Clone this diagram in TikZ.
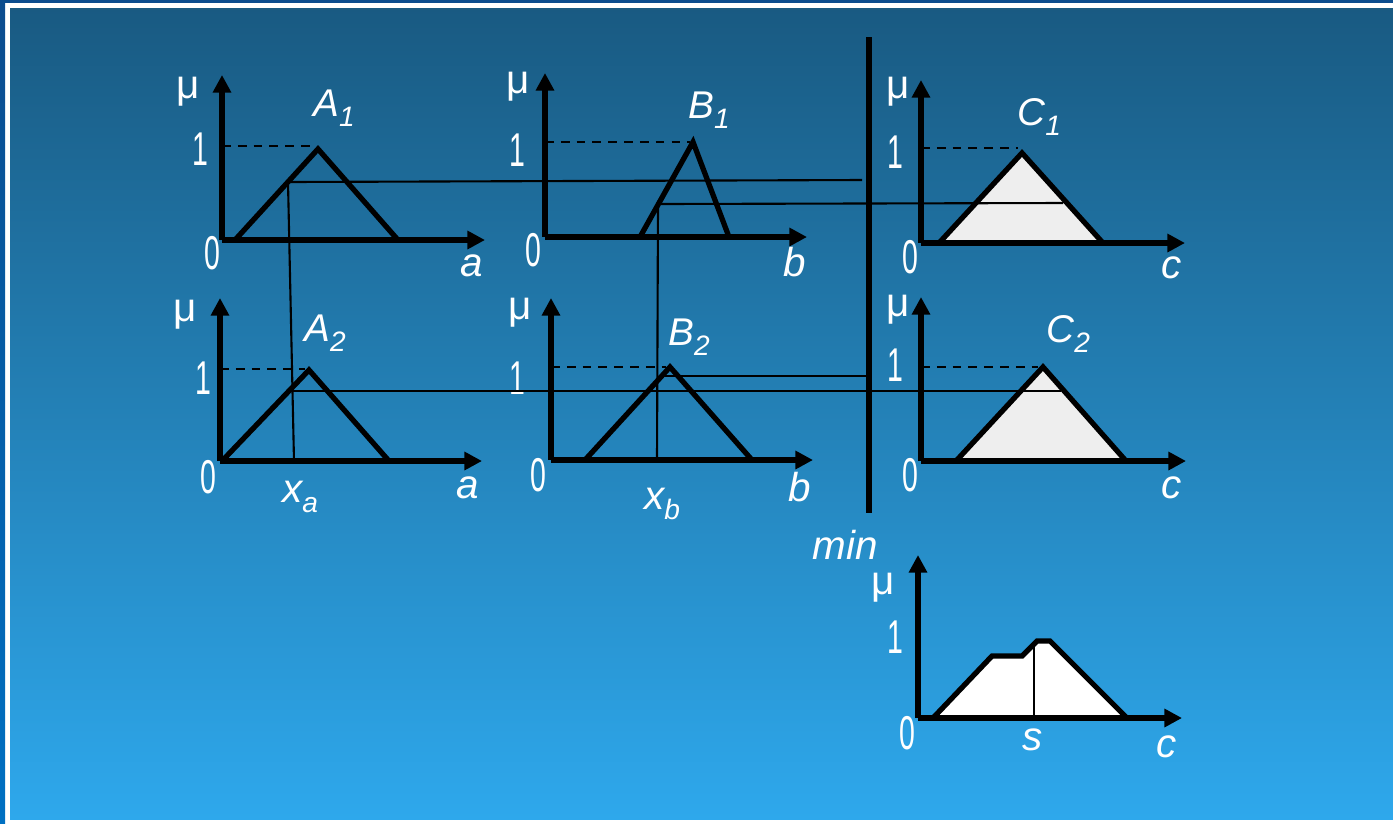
\documentclass[tikz,border=0pt]{standalone}
\usepackage{fontspec}
\setmainfont{Liberation Sans}
\usepackage{graphicx}
\usetikzlibrary{arrows.meta}
\definecolor{slidetop}{HTML}{195A82}
\definecolor{slidebot}{HTML}{2EA8EC}
\definecolor{slideedge}{HTML}{0B4C8E}
\definecolor{slideedgelow}{HTML}{0070C2}
\definecolor{mfgray}{HTML}{EEEEEE}
\newcommand{\setlab}[2]{\textit{#1}\raisebox{-6pt}{\fontsize{16}{18}\selectfont\textit{#2}}}
\newcommand{\varlab}[2]{\textit{#1}\raisebox{-5.5pt}{\fontsize{16}{18}\selectfont\textit{#2}}}
\newcommand{\ticklab}[1]{\scalebox{0.6}[1]{#1}}
\tikzset{
    plot axis/.style={line width=3.4pt, draw=black, -{Triangle[length=10pt,width=10pt]}},
    plot mf/.style={line width=3pt, draw=black, line join=miter},
    plot cut/.style={line width=1.2pt, draw=black},
    plot guide/.style={line width=1.3pt, draw=black, dash pattern=on 5pt off 4pt},
    plot bar/.style={line width=3pt, draw=black},
    plot label/.style={text=white, inner sep=0pt},
    plot mu/.style={plot label, font=\fontsize{23}{25}\selectfont},
    plot tick/.style={plot label, font=\fontsize{27}{29}\selectfont},
    plot set/.style={plot label, font=\fontsize{22}{24}\selectfont},
    plot var/.style={plot label, font=\fontsize{23}{25}\selectfont\itshape}
}

\begin{document}
\begin{tikzpicture}[x=0.02cm, y=-0.02cm]
% slide background
\useasboundingbox (0,0) rectangle (1393,823);
\fill[white] (0,0) rectangle (1393,823);
\shade[top color=slidetop, bottom color=slidebot] (10,8) rectangle (1393,819);
\shade[top color=slideedge, bottom color=slideedgelow] (0,0) rectangle (5,823);
\fill[slideedge] (0,0) rectangle (1393,3);

% points of the panels
\coordinate (a1o) at (222,240); \coordinate (a1y) at (222,75); \coordinate (a1x) at (485,240);
\coordinate (a1l) at (235,240); \coordinate (a1p) at (318,149); \coordinate (a1r) at (398,240);
\coordinate (b1o) at (545,237); \coordinate (b1y) at (545,73); \coordinate (b1x) at (807,237);
\coordinate (b1l) at (640,237); \coordinate (b1p) at (693,142); \coordinate (b1r) at (729,237);
\coordinate (c1o) at (921,243); \coordinate (c1y) at (921,80); \coordinate (c1x) at (1185,243);
\coordinate (c1l) at (939,243); \coordinate (c1p) at (1022,153); \coordinate (c1r) at (1103,243);
\coordinate (a2o) at (220,461); \coordinate (a2y) at (220,298); \coordinate (a2x) at (482,461);
\coordinate (a2l) at (222,461); \coordinate (a2p) at (309,370); \coordinate (a2r) at (389,461);
\coordinate (b2o) at (551,460); \coordinate (b2y) at (551,298); \coordinate (b2x) at (813,460);
\coordinate (b2l) at (585,460); \coordinate (b2p) at (670,367); \coordinate (b2r) at (752,460);
\coordinate (c2o) at (921,461); \coordinate (c2y) at (921,297); \coordinate (c2x) at (1186,461);
\coordinate (c2l) at (956,461); \coordinate (c2p) at (1043,367); \coordinate (c2r) at (1126,461);
\coordinate (so) at (918,718); \coordinate (sy) at (918,555); \coordinate (sx) at (1182,718);

% min bar
\coordinate (bartop) at (869,37); \coordinate (barbot) at (869,513);
\draw[plot bar] (bartop) -- (barbot);
\node[plot var] (minlab) at (845,545) {min};

% A1
\draw[plot guide] (222,146) -- (315,146);
\draw[plot axis] (a1o) -- (a1y);
\draw[plot axis] (a1o) -- (a1x);
\draw[plot mf] (a1l) -- (a1p) -- (a1r);
\node[plot mu] (a1mu) at (188,92) {μ};
\node[plot tick] (a1one) at (200,149) {\ticklab{1}};
\node[plot tick] (a1zero) at (212,253) {\ticklab{0}};
\node[plot set] (a1set) at (334,108) {\setlab{A}{1}};
\node[plot var] (a1var) at (472,266) {a};

% B1
\draw[plot guide] (545,142) -- (690,142);
\draw[plot axis] (b1o) -- (b1y);
\draw[plot axis] (b1o) -- (b1x);
\draw[plot mf] (b1l) -- (b1p) -- (b1r);
\node[plot mu] (b1mu) at (518,87) {μ};
\node[plot tick] (b1one) at (517,150) {\ticklab{1}};
\node[plot tick] (b1zero) at (533,250) {\ticklab{0}};
\node[plot set] (b1set) at (709,110) {\setlab{B}{1}};
\node[plot var] (b1var) at (795,262) {b};

% C1
\fill[mfgray] (c1l) -- (c1p) -- (c1r) -- cycle;
\draw[plot guide] (921,148) -- (1018,148);
\draw[plot axis] (c1o) -- (c1y);
\draw[plot axis] (c1o) -- (c1x);
\draw[plot mf] (c1l) -- (c1p) -- (c1r);
\node[plot mu] (c1mu) at (898,92) {μ};
\node[plot tick] (c1one) at (895,152) {\ticklab{1}};
\node[plot tick] (c1zero) at (910,257) {\ticklab{0}};
\node[plot set] (c1set) at (1039,117) {\setlab{C}{1}};
\node[plot var] (c1var) at (1172,268) {c};

% A2
\draw[plot guide] (220,369) -- (305,369);
\draw[plot axis] (a2o) -- (a2y);
\draw[plot axis] (a2o) -- (a2x);
\draw[plot mf] (a2l) -- (a2p) -- (a2r);
\node[plot mu] (a2mu) at (185,315) {μ};
\node[plot tick] (a2one) at (203,378) {\ticklab{1}};
\node[plot tick] (a2zero) at (208,477) {\ticklab{0}};
\node[plot set] (a2set) at (325,333) {\setlab{A}{2}};
\node[plot var] (a2var) at (468,488) {a};
\node[plot var] (xa) at (300,497) {\varlab{x}{a}};

% B2
\draw[plot guide] (551,367) -- (666,367);
\draw[plot axis] (b2o) -- (b2y);
\draw[plot axis] (b2o) -- (b2x);
\draw[plot mf] (b2l) -- (b2p) -- (b2r);
\node[plot mu] (b2mu) at (520,313) {μ};
\node[plot tick] (b2one) at (517,378) {\ticklab{1}};
\node[plot tick] (b2zero) at (538,475) {\ticklab{0}};
\node[plot set] (b2set) at (689,337) {\setlab{B}{2}};
\node[plot var] (b2var) at (800,487) {b};
\node[plot var] (xb) at (662,504) {\varlab{x}{b}};

% C2
\fill[mfgray] (c2l) -- (c2p) -- (c2r) -- cycle;
\draw[plot guide] (921,367) -- (1038,367);
\draw[plot axis] (c2o) -- (c2y);
\draw[plot axis] (c2o) -- (c2x);
\draw[plot mf] (c2l) -- (c2p) -- (c2r);
\node[plot mu] (c2mu) at (898,310) {μ};
\node[plot tick] (c2one) at (895,365) {\ticklab{1}};
\node[plot tick] (c2zero) at (910,475) {\ticklab{0}};
\node[plot set] (c2set) at (1068,334) {\setlab{C}{2}};
\node[plot var] (c2var) at (1172,488) {c};

% cut levels
\coordinate (a1cut) at (288,182); \coordinate (a1end) at (862,180);
\coordinate (b1cut) at (658,204); \coordinate (b1end) at (1063,203);
\coordinate (xafoot) at (294,461);
\coordinate (a2cut) at (293,391); \coordinate (a2end) at (1061,391);
\coordinate (b2cut) at (660,376); \coordinate (b2end) at (866,376);
\coordinate (xbfoot) at (657,460);
\draw[plot cut] (a1cut) -- (a1end);
\draw[plot cut] (b1cut) -- (b1end);
\draw[plot cut] (a1cut) -- (xafoot);
\draw[plot cut] (b1cut) -- (xbfoot);
\draw[plot cut] (a2cut) -- (a2end);
\draw[plot cut] (b2cut) -- (b2end);

% result
\fill[white] (933,718) -- (992,656) -- (1022,656) -- (1037,641) -- (1050,641) -- (1127,718) -- cycle;
\draw[plot axis] (so) -- (sy);
\draw[plot axis] (so) -- (sx);
\draw[plot mf] (933,718) -- (992,656) -- (1022,656) -- (1037,641) -- (1050,641) -- (1127,718);
\coordinate (stop) at (1034,643); \coordinate (sfoot) at (1034,718);
\draw[plot cut] (stop) -- (sfoot);
\node[plot mu] (smu) at (883,588) {μ};
\node[plot tick] (sone) at (895,637) {\ticklab{1}};
\node[plot tick] (szero) at (907,733) {\ticklab{0}};
\node[plot var] (slab) at (1033,740) {s};
\node[plot var] (svar) at (1167,747) {c};
\end{tikzpicture}
\end{document}
